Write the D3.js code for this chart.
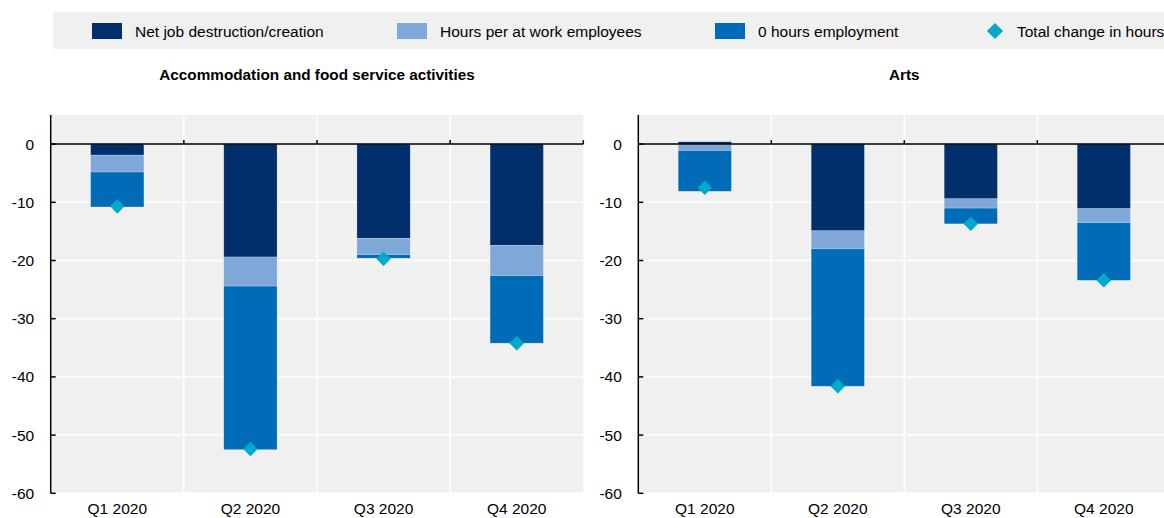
<!DOCTYPE html>
<html lang="en">
<head>
<meta charset="utf-8">
<title>Change in hours worked</title>
<script src="https://cdn.jsdelivr.net/npm/d3@7"></script>
<style>
  body { margin: 0; background: #fff; overflow: hidden; }
  svg text { font-family: "Liberation Sans", Arial, sans-serif; fill: #000; }
</style>
</head>
<body>
<svg id="chart" width="1164" height="518"></svg>
<script>
// data
var quarters = ["Q1 2020", "Q2 2020", "Q3 2020", "Q4 2020"];
var seriesNames = ["Net job destruction/creation", "Hours per at work employees", "0 hours employment"];
var totalName = "Total change in hours";
var yTicks = [0, -10, -20, -30, -40, -50, -60];

var accomNet   = [-1.9, -19.4, -16.2, -17.4];
var accomHours = [-2.9, -5.0, -2.8, -5.2];
var accomZero  = [-6.0, -28.1, -0.6, -11.6];
var accomTotal = [-10.7, -52.4, -19.7, -34.2];

var artsNet   = [0.4, -14.9, -9.4, -11.1];
var artsHours = [-1.1, -3.1, -1.6, -2.4];
var artsZero  = [-7.0, -23.6, -2.7, -9.9];
var artsTotal = [-7.5, -41.6, -13.7, -23.4];

var colors = ["#002f6c", "#7fa8d9", "#006bb6"];
var diamondColor = "#00aacc";

var svg = d3.select("#chart");

// legend
svg.append("rect").attr("x", 53).attr("y", 12).attr("width", 1120).attr("height", 37).attr("fill", "#f0f0f0");
var legendX = [92, 397, 715];
seriesNames.forEach(function (name, i) {
    svg.append("rect").attr("x", legendX[i]).attr("y", 23).attr("width", 30).attr("height", 16).attr("fill", colors[i]);
    svg.append("text").attr("x", legendX[i] + 43).attr("y", 37).style("font-size", "15.5px").text(name);
});
svg.append("path")
    .attr("d", d3.symbol(d3.symbolSquare, 130)())
    .attr("transform", "translate(995,31) rotate(45)")
    .attr("fill", diamondColor);
svg.append("text").attr("x", 1017).attr("y", 37).style("font-size", "15.5px").text(totalName);

function panel(title, x0, x1, net, hours, zero, total) {
    var top = 115, bottom = 493.3;
    var x = d3.scaleBand().domain(quarters).range([x0, x1]).padding(0);
    var y = d3.scaleLinear().domain([-60, 5]).range([bottom, top]);
    var g = svg.append("g");

    g.append("rect").attr("x", x0).attr("y", top).attr("width", x1 - x0).attr("height", bottom - top).attr("fill", "#f0f0f0");

    // horizontal grid
    g.selectAll(".hgrid").data(yTicks.filter(function (t) { return t !== 0; }))
        .enter().append("line")
        .attr("x1", x0).attr("x2", x1)
        .attr("y1", function (d) { return y(d); }).attr("y2", function (d) { return y(d); })
        .attr("stroke", "#fff").attr("stroke-width", 1.5);

    // vertical grid at band edges
    g.selectAll(".vgrid").data(quarters.slice(1))
        .enter().append("line")
        .attr("x1", function (d) { return x(d); }).attr("x2", function (d) { return x(d); })
        .attr("y1", top).attr("y2", bottom)
        .attr("stroke", "#fff").attr("stroke-width", 1.5);

    // stacked bars
    var rows = quarters.map(function (q, i) { return { q: q, s0: net[i], s1: hours[i], s2: zero[i] }; });
    var stack = d3.stack().keys(["s0", "s1", "s2"]).offset(d3.stackOffsetDiverging)(rows);
    var bw = x.bandwidth() * 0.4;
    stack.forEach(function (layer, k) {
        g.selectAll(".bar" + k).data(layer).enter().append("rect")
            .attr("x", function (d) { return x(d.data.q) + (x.bandwidth() - bw) / 2; })
            .attr("width", bw)
            .attr("y", function (d) { return y(Math.max(d[0], d[1])); })
            .attr("height", function (d) { return Math.abs(y(d[0]) - y(d[1])); })
            .attr("fill", colors[k])
            .attr("stroke", "#ffffff").attr("stroke-opacity", 0.35).attr("stroke-width", 0.6);
    });

    // total diamonds
    g.selectAll(".dia").data(total).enter().append("path")
        .attr("d", d3.symbol(d3.symbolSquare, 106)())
        .attr("transform", function (d, i) {
            return "translate(" + (x(quarters[i]) + x.bandwidth() / 2) + "," + y(d) + ") rotate(45)";
        })
        .attr("fill", diamondColor);

    // zero line with ticks at band edges
    g.append("line").attr("x1", x0).attr("x2", x1).attr("y1", y(0)).attr("y2", y(0))
        .attr("stroke", "#000").attr("stroke-width", 1.5);
    g.selectAll(".xtick").data(quarters.slice(1).map(function (q) { return x(q); }).concat([x1]))
        .enter().append("line")
        .attr("x1", function (d) { return d; }).attr("x2", function (d) { return d; })
        .attr("y1", y(0)).attr("y2", y(0) - 4)
        .attr("stroke", "#000").attr("stroke-width", 1.5);

    // y axis
    g.append("line").attr("x1", x0).attr("x2", x0).attr("y1", top).attr("y2", bottom)
        .attr("stroke", "#000").attr("stroke-width", 1.5);
    g.selectAll(".ytick").data(yTicks).enter().append("line")
        .attr("x1", x0).attr("x2", x0 + 5)
        .attr("y1", function (d) { return y(d); }).attr("y2", function (d) { return y(d); })
        .attr("stroke", "#000").attr("stroke-width", 1.5);
    g.selectAll(".ylab").data(yTicks).enter().append("text")
        .attr("x", x0 - 16.5).attr("y", function (d) { return y(d) + 5.5; })
        .attr("text-anchor", "end").style("font-size", "15.5px")
        .text(function (d) { return d; });

    // x labels
    g.selectAll(".xlab").data(quarters).enter().append("text")
        .attr("x", function (d) { return x(d) + x.bandwidth() / 2; })
        .attr("y", 514)
        .attr("text-anchor", "middle").style("font-size", "15.5px")
        .text(function (d) { return d; });

    // title
    g.append("text").attr("x", (x0 + x1) / 2).attr("y", 80)
        .attr("text-anchor", "middle").style("font-size", "15.3px").style("font-weight", "bold")
        .text(title);
}

panel("Accommodation and food service activities", 50.7, 583.3, accomNet, accomHours, accomZero, accomTotal);
panel("Arts", 638.3, 1170.3, artsNet, artsHours, artsZero, artsTotal);
</script>
</body>
</html>
